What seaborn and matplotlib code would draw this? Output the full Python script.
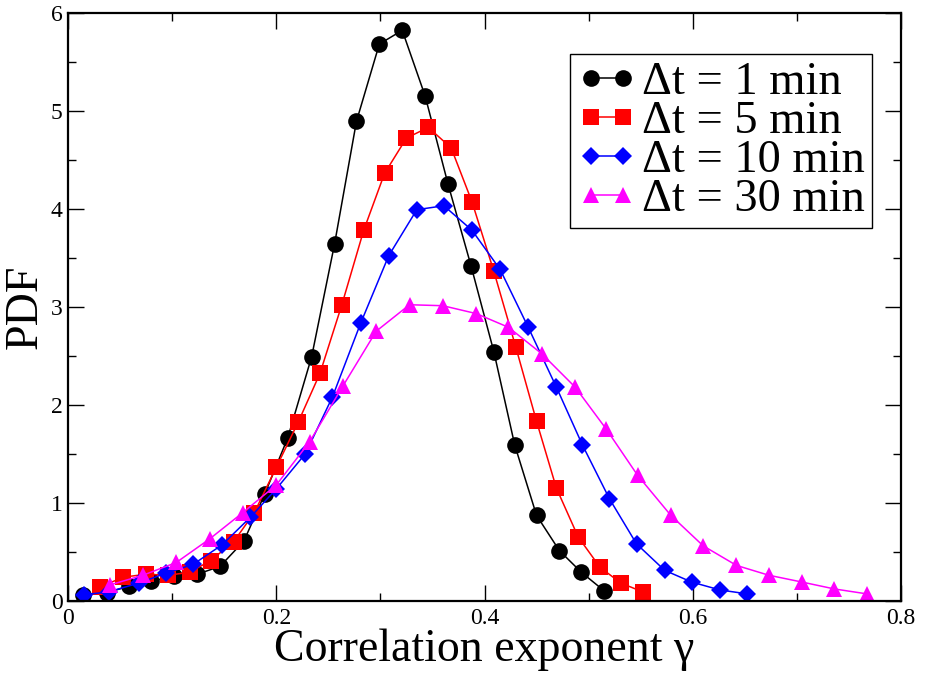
import matplotlib
matplotlib.use("Agg")
import matplotlib.pyplot as plt
import seaborn as sns
import pandas as pd
from matplotlib.ticker import MultipleLocator

# ---- data ----
x_1min = [0.014, 0.037, 0.059, 0.080, 0.102, 0.124, 0.146, 0.169, 0.189, 0.211,
          0.234, 0.256, 0.277, 0.299, 0.321, 0.343, 0.365, 0.387, 0.409, 0.429,
          0.450, 0.472, 0.493, 0.515]
y_1min = [0.06, 0.08, 0.15, 0.20, 0.25, 0.27, 0.35, 0.61, 1.09, 1.66,
          2.49, 3.64, 4.89, 5.68, 5.82, 5.15, 4.25, 3.42, 2.54, 1.59,
          0.87, 0.51, 0.29, 0.10]

x_5min = [0.031, 0.053, 0.075, 0.096, 0.117, 0.137, 0.159, 0.179, 0.200, 0.221,
          0.242, 0.263, 0.284, 0.304, 0.325, 0.346, 0.368, 0.388, 0.409, 0.430,
          0.450, 0.469, 0.490, 0.511, 0.531, 0.552]
y_5min = [0.14, 0.24, 0.27, 0.26, 0.29, 0.41, 0.60, 0.90, 1.36, 1.82,
          2.32, 3.02, 3.78, 4.36, 4.72, 4.83, 4.62, 4.07, 3.36, 2.59,
          1.83, 1.15, 0.65, 0.34, 0.18, 0.09]

x_10min = [0.015, 0.039, 0.068, 0.094, 0.120, 0.148, 0.175, 0.200, 0.228, 0.254,
           0.281, 0.308, 0.335, 0.361, 0.388, 0.415, 0.442, 0.469, 0.494, 0.520,
           0.546, 0.573, 0.599, 0.626, 0.652]
y_10min = [0.06, 0.09, 0.18, 0.28, 0.37, 0.57, 0.85, 1.14, 1.50, 2.08,
           2.83, 3.52, 3.99, 4.03, 3.78, 3.38, 2.79, 2.18, 1.59, 1.04,
           0.58, 0.31, 0.19, 0.11, 0.07]

x_30min = [0.040, 0.072, 0.104, 0.136, 0.168, 0.200, 0.232, 0.264, 0.296, 0.328,
           0.360, 0.392, 0.423, 0.455, 0.487, 0.517, 0.547, 0.579, 0.610, 0.642,
           0.673, 0.705, 0.736, 0.767]
y_30min = [0.16, 0.26, 0.39, 0.63, 0.90, 1.18, 1.62, 2.19, 2.75, 3.02,
           3.01, 2.93, 2.79, 2.52, 2.18, 1.75, 1.28, 0.87, 0.56, 0.36,
           0.26, 0.19, 0.12, 0.07]

series_labels = ["\u0394t = 1 min", "\u0394t = 5 min", "\u0394t = 10 min", "\u0394t = 30 min"]
series_colors = ["#000000", "#ff0000", "#0000ff", "#ff00ff"]
series_markers = ["o", "s", "D", "^"]
series_msizes = [12, 11, 8.8, 11.5]

x_ticks = [0, 0.2, 0.4, 0.6, 0.8]
x_tick_labels = ["0", "0.2", "0.4", "0.6", "0.8"]
y_ticks = [0, 1, 2, 3, 4, 5, 6]
y_tick_labels = ["0", "1", "2", "3", "4", "5", "6"]

xs = [x_1min, x_5min, x_10min, x_30min]
ys = [y_1min, y_5min, y_10min, y_30min]

# ---- plotting ----
sns.set_style("ticks")
plt.rcParams["font.family"] = ["Liberation Serif", "DejaVu Serif"]
plt.rcParams["text.color"] = "black"
plt.rcParams["axes.labelcolor"] = "black"
plt.rcParams["xtick.color"] = "black"
plt.rcParams["ytick.color"] = "black"
plt.rcParams["xtick.labelcolor"] = "black"
plt.rcParams["ytick.labelcolor"] = "black"

fig = plt.figure(figsize=(9.3, 6.76), dpi=100)
ax = fig.add_axes([68 / 930, 1 - 600.7 / 676, (901 - 68) / 930, (600.7 - 12.7) / 676])

handles = []
for x, y, lab, col, mk, ms in zip(xs, ys, series_labels, series_colors,
                                  series_markers, series_msizes):
    df = pd.DataFrame({"x": x, "y": y})
    sns.lineplot(data=df, x="x", y="y", ax=ax, color=col, marker=mk,
                 markersize=ms, markeredgewidth=0, linewidth=1.1,
                 estimator=None, sort=False, label=lab)
    handles.append(ax.get_lines()[-1])

ax.set_xlim(0, 0.8)
ax.set_ylim(0, 6)
ax.set_xticks(x_ticks)
ax.set_xticklabels(x_tick_labels)
ax.set_yticks(y_ticks)
ax.set_yticklabels(y_tick_labels)
ax.xaxis.set_minor_locator(MultipleLocator(0.1))
ax.yaxis.set_minor_locator(MultipleLocator(0.5))
ax.tick_params(which="both", direction="in", top=True, right=True,
               width=1.0, color="black", labelcolor="black")
ax.tick_params(which="major", length=11.5, labelsize=17, pad=4)
ax.tick_params(which="minor", length=6)
ax.tick_params(axis="x", which="major", pad=5)
for sp in ax.spines.values():
    sp.set_visible(True)
    sp.set_linewidth(1.6)
    sp.set_color("black")

ax.set_xlabel("Correlation exponent \u03b3", fontsize=33, labelpad=0, color="black")
ax.set_ylabel("PDF", fontsize=33, labelpad=3, color="black")

leg = ax.legend(handles, series_labels, loc="upper right",
                bbox_to_anchor=((871.7 - 68) / 833, (600.7 - 54.3) / 588),
                borderaxespad=0, fontsize=33.5, numpoints=2, frameon=True,
                fancybox=False, edgecolor="black", framealpha=1,
                handlelength=1.3, handletextpad=0.1, borderpad=0.15,
                labelspacing=-0.075)
leg.get_frame().set_linewidth(1.0)
for t in leg.get_texts():
    t.set_color("black")

fig.savefig("out.png", dpi=100)
